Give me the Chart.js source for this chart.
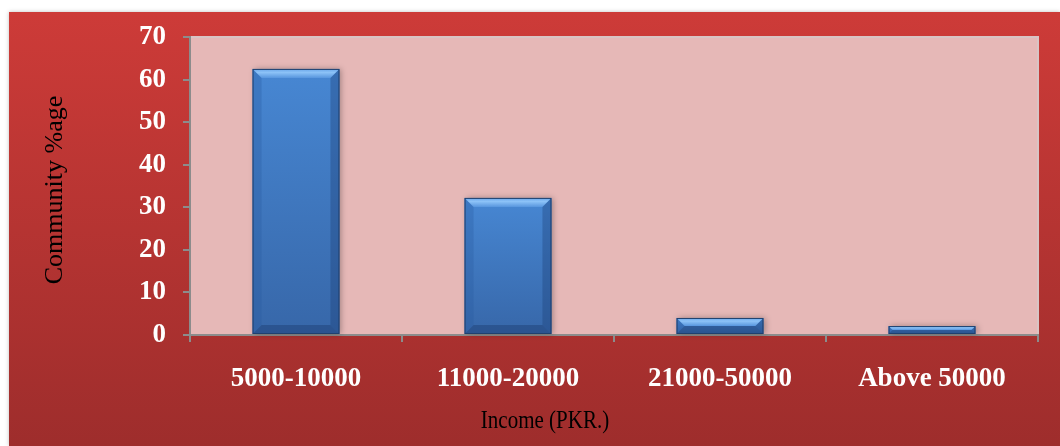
<!DOCTYPE html>
<html>
<head>
<meta charset="utf-8">
<script src="https://cdn.jsdelivr.net/npm/chart.js@4"></script>
<style>
  body { margin: 0; background: #fff; }
</style>
</head>
<body>
<canvas id="grafico" width="1060" height="446"></canvas>
<script>
// datos del grafico
const categorias = ['5000-10000', '11000-20000', '21000-50000', 'Above 50000'];
const porcentajes = [62.5, 32.2, 4.0, 2.1];
const ticksY = [0, 10, 20, 30, 40, 50, 60, 70];
const tituloY = 'Community %age';
const tituloX = 'Income (PKR.)';

document.addEventListener("DOMContentLoaded", () => {
    const ctx = document.getElementById('grafico').getContext('2d');
    const serif = "'Liberation Serif', 'Times New Roman', serif";

    // fondo rojo y area del grafico rosa
    const fondo = {
        id: 'fondo',
        beforeDraw(chart) {
            const c = chart.ctx;
            const a = chart.chartArea;
            c.save();
            c.fillStyle = '#fff';
            c.fillRect(0, 0, chart.width, chart.height);
            const g = c.createLinearGradient(0, 12, 0, chart.height);
            g.addColorStop(0, '#cd3b38');
            g.addColorStop(1, '#9e2d2c');
            c.shadowColor = 'rgba(0,0,0,0.25)';
            c.shadowBlur = 4;
            c.fillStyle = g;
            c.fillRect(9, 12, chart.width - 9, chart.height - 12);
            c.shadowBlur = 0;
            c.fillStyle = '#e6b8b7';
            c.fillRect(a.left, a.top, a.right - a.left, a.bottom - a.top);
            c.strokeStyle = '#d8c4c4';
            c.lineWidth = 2;
            c.beginPath();
            c.moveTo(a.left, a.top);
            c.lineTo(a.right, a.top);
            c.lineTo(a.right, a.bottom);
            c.stroke();
            c.restore();
        }
    };

    // efecto biselado de las barras
    const bisel = {
        id: 'bisel',
        afterDatasetsDraw(chart) {
            const c = chart.ctx;
            chart.getDatasetMeta(0).data.forEach(bar => {
                const { x, y, base, width } = bar.getProps(['x', 'y', 'base', 'width'], true);
                const l = x - width / 2, r = x + width / 2, t = y, b = base;
                const s = Math.min(9, (b - t) / 2);
                const poly = (pts, fill) => {
                    c.beginPath();
                    c.moveTo(pts[0][0], pts[0][1]);
                    pts.slice(1).forEach(p => c.lineTo(p[0], p[1]));
                    c.closePath();
                    c.fillStyle = fill;
                    c.fill();
                };
                c.save();
                c.shadowColor = 'rgba(0,0,0,0.3)';
                c.shadowBlur = 6;
                c.shadowOffsetX = 2;
                const body = c.createLinearGradient(0, t, 0, b);
                body.addColorStop(0, '#4787d3');
                body.addColorStop(1, '#3767a9');
                c.fillStyle = body;
                c.fillRect(l, t, width, b - t);
                c.restore();
                c.save();
                const top = c.createLinearGradient(0, t, 0, t + s);
                top.addColorStop(0, '#6aa6ea');
                top.addColorStop(0.4, '#8cc2f7');
                top.addColorStop(1, '#5896de');
                poly([[l, t], [r, t], [r - s, t + s], [l + s, t + s]], top);
                poly([[l, t], [l + s, t + s], [l + s, b - s], [l, b]], 'rgba(40,90,160,0.3)');
                poly([[r, t], [r, b], [r - s, b - s], [r - s, t + s]], 'rgba(25,60,115,0.35)');
                poly([[l, b], [l + s, b - s], [r - s, b - s], [r, b]], 'rgba(25,55,105,0.4)');
                c.strokeStyle = '#1f406e';
                c.lineWidth = 1;
                c.strokeRect(l + 0.5, t + 0.5, width - 1, b - t - 1);
                c.restore();
            });
        }
    };

    // titulos de los ejes
    const titulos = {
        id: 'titulos',
        afterDraw(chart) {
            const c = chart.ctx;
            c.save();
            c.fillStyle = '#000';
            c.font = '26px ' + serif;
            c.textAlign = 'center';
            c.textBaseline = 'middle';
            c.translate(55, 190);
            c.rotate(-Math.PI / 2);
            c.fillText(tituloY, 0, 0);
            c.restore();
            c.save();
            c.fillStyle = '#000';
            c.font = '21px ' + serif;
            c.textAlign = 'center';
            c.textBaseline = 'middle';
            c.translate(545, 421);
            c.scale(1, 1.2);
            c.fillText(tituloX, 0, 0);
            c.restore();
        }
    };

    new Chart(ctx, {
        type: 'bar',
        data: {
            labels: categorias,
            datasets: [{
                data: porcentajes,
                backgroundColor: 'rgba(0,0,0,0)',
                borderWidth: 0,
                categoryPercentage: 0.82,
                barPercentage: 0.5
            }]
        },
        options: {
            responsive: false,
            animation: false,
            layout: { padding: { left: 9, top: 37, right: 22, bottom: 0 } },
            plugins: {
                legend: { display: false },
                tooltip: { enabled: false }
            },
            scales: {
                x: {
                    afterFit: (s) => { s.height = 111; },
                    grid: { drawOnChartArea: false, tickLength: 7, color: '#8c8c8c', lineWidth: 2 },
                    border: { color: '#8c8c8c', width: 2 },
                    ticks: { color: '#fff', font: { family: serif, size: 27, weight: 'bold' }, padding: 21 }
                },
                y: {
                    min: 0,
                    max: 70,
                    afterFit: (s) => { s.width = 181; },
                    afterBuildTicks: (s) => { s.ticks = ticksY.map(v => ({ value: v })); },
                    grid: { drawOnChartArea: false, tickLength: 7, color: '#8c8c8c', lineWidth: 2 },
                    border: { color: '#8c8c8c', width: 2 },
                    ticks: { color: '#fff', font: { family: serif, size: 27, weight: 'bold' }, padding: 17 }
                }
            }
        },
        plugins: [fondo, bisel, titulos]
    });
});
</script>
</body>
</html>
